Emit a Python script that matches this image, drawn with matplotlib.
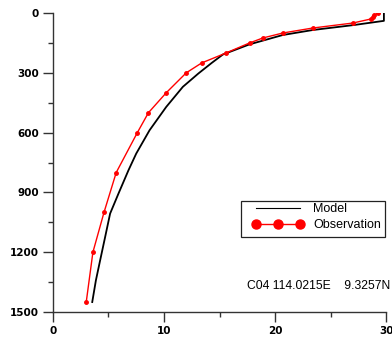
import matplotlib
matplotlib.use('Agg')
import matplotlib.pyplot as plt
from matplotlib.lines import Line2D
from matplotlib.patches import Rectangle
from matplotlib.ticker import MultipleLocator

# observed temperature profile
obs_temp = [29.3, 28.9, 28.8, 28.6, 27.0, 23.4, 20.7, 18.9, 17.7, 15.6, 13.4,
            12.0, 10.2, 8.6, 7.6, 5.7, 4.6, 3.6, 3.0]
obs_depth = [0, 10, 20, 30, 50, 75, 100, 125, 150, 200, 250,
             300, 400, 500, 600, 800, 1000, 1200, 1450]

# model temperature profile
mod_temp = [29.8, 29.8, 27.1, 23.4, 20.7, 17.7, 15.3, 14.3, 13.1, 11.7, 10.2,
            8.7, 7.5, 6.8, 5.9, 5.15, 4.7, 4.25, 3.87, 3.54]
mod_depth = [0, 39, 60, 85, 110, 157, 208, 250, 303, 370, 471,
             588, 705, 789, 906, 1006, 1124, 1241, 1341, 1450]

label = "C04 114.0215E    9.3257N"

fig = plt.figure(figsize=(3.92, 3.44), dpi=100)
ax = fig.add_axes([0.135, 0.093, 0.85, 0.869])

ax.plot(mod_temp, mod_depth, color='black', lw=1.3)
ax.plot(obs_temp, obs_depth, color='red', lw=1.0, marker='o', ms=2.5)

ax.set_xlim(0, 30)
ax.set_ylim(1500, 0)
ax.xaxis.set_major_locator(MultipleLocator(10))
ax.xaxis.set_minor_locator(MultipleLocator(5))
ax.yaxis.set_major_locator(MultipleLocator(300))
ax.yaxis.set_minor_locator(MultipleLocator(150))

for s in ['top', 'right']:
    ax.spines[s].set_visible(False)
for s in ['left', 'bottom']:
    ax.spines[s].set_color('#333333')
    ax.spines[s].set_linewidth(1.0)

ax.tick_params(which='major', length=7, width=1, direction='out', color='#333333', pad=3)
ax.tick_params(which='minor', length=3.5, width=1, direction='out', color='#333333')
for t in ax.get_xticklabels() + ax.get_yticklabels():
    t.set_fontweight('bold')
    t.set_fontsize(7.5)
    t.set_family('DejaVu Sans')

# legend box drawn by hand, entries without frame
ax.add_patch(Rectangle((0.5646, 0.2508), 0.4324, 0.1204, transform=ax.transAxes,
                       fill=False, edgecolor='#222222', lw=0.9, clip_on=False))
handles = [Line2D([], [], color='black', lw=0.8),
           Line2D([], [], color='red', lw=1.0, marker='o', ms=6.5)]
leg = ax.legend(handles, ['Model', 'Observation'], loc='upper left',
                bbox_to_anchor=(0.5976, 0.365), frameon=False,
                handlelength=4.1, numpoints=3, borderpad=0, borderaxespad=0,
                labelspacing=0.33, handletextpad=0.8,
                prop={'family': 'Liberation Sans', 'size': 9})

ax.text(0.583, 0.087, label, transform=ax.transAxes, fontsize=8.7,
        family='Liberation Sans', ha='left', va='center', clip_on=False)

fig.savefig('out.png', dpi=100)
